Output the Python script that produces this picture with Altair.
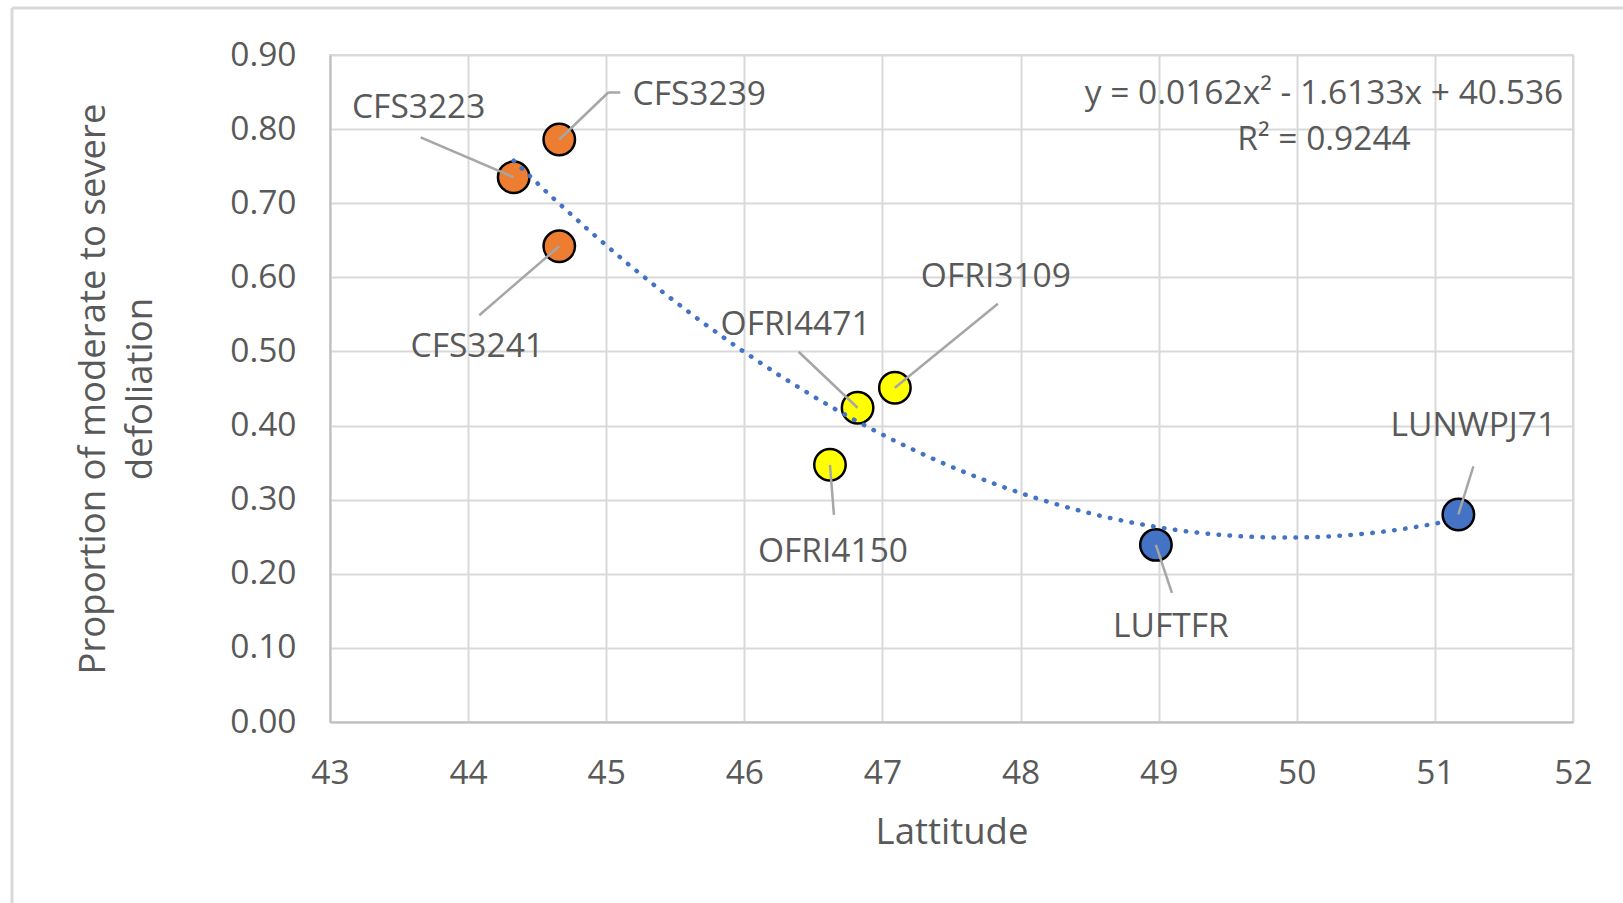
import altair as alt
import pandas as pd

# Sites, their latitude and the proportion of moderate-to-severe defoliation
sites = ["CFS3223", "CFS3239", "CFS3241", "OFRI4471", "OFRI3109", "OFRI4150", "LUFTFR", "LUNWPJ71"]
latitude = [44.33, 44.66, 44.66, 46.82, 47.09, 46.62, 48.98, 51.17]
defoliation = [0.735, 0.786, 0.642, 0.424, 0.451, 0.347, 0.239, 0.280]
source = ["CFS", "CFS", "CFS", "OFRI", "OFRI", "OFRI", "LU", "LU"]

x_ticks = [43, 44, 45, 46, 47, 48, 49, 50, 51, 52]
y_ticks = [0.0, 0.1, 0.2, 0.3, 0.4, 0.5, 0.6, 0.7, 0.8, 0.9]
equation = "y = 0.0162x² - 1.6133x + 40.536"
r_squared = "R² = 0.9244"

# ---- layout -------------------------------------------------------------
W, H = 1243, 667
LEFT, TOP = 330, 55
PX_X = W / (x_ticks[-1] - x_ticks[0])
PX_Y = H / (y_ticks[-1] - y_ticks[0])

GREY_TEXT = "#595959"
FONT = "Open Sans"
TEXT_SIZE = 33.5

# callout leaders (pixel vertices relative to the point) and label centres
callouts = {
    "CFS3223": ([(0, 0), (-93, -40)], (-95, -69)),
    "CFS3239": ([(0, 0), (49, -47), (61, -47)], (140, -44)),
    "CFS3241": ([(0, 0), (-80, 69)], (-82, 101)),
    "OFRI4471": ([(0, 0), (-59, -56)], (-62, -83)),
    "OFRI3109": ([(0, 0), (103, -84)], (101, -111)),
    "OFRI4150": ([(0, 0), (4, 50)], (3, 87)),
    "LUFTFR": ([(0, 0), (16, 48)], (15, 82)),
    "LUNWPJ71": ([(0, 0), (15, -48)], (15, -88)),
}

points = pd.DataFrame({"site": sites, "lat": latitude, "val": defoliation, "source": source})

leader_rows, label_rows = [], []
for s, la, v in zip(sites, latitude, defoliation):
    verts, (lx, ly) = callouts[s]
    for (ax, ay), (bx, by) in zip(verts[:-1], verts[1:]):
        leader_rows.append({
            "site": s,
            "lat": la + ax / PX_X, "val": v - ay / PX_Y,
            "lat2": la + bx / PX_X, "val2": v - by / PX_Y,
        })
    label_rows.append({"site": s, "lat": la + lx / PX_X, "val": v - ly / PX_Y})
leaders = pd.DataFrame(leader_rows)
labels = pd.DataFrame(label_rows)

x_scale = alt.Scale(domain=[x_ticks[0], x_ticks[-1]], nice=False, zero=False)
y_scale = alt.Scale(domain=[y_ticks[0], y_ticks[-1]], nice=False, zero=False)

x_axis = alt.Axis(
    values=x_ticks, format="d", title="Lattitude", labelPadding=35,
    titleBaseline="alphabetic", titleY=121, labelFlush=False)
y_axis = alt.Axis(
    values=y_ticks, format=".2f", title=["Proportion of moderate to severe", "defoliation"],
    labelPadding=34, titleX=-237, titleY=H / 2, titleBaseline="middle",
    titleLineHeight=47, titleAngle=270, labelFlush=False)

X = alt.X("lat:Q", scale=x_scale, axis=x_axis)
Y = alt.Y("val:Q", scale=y_scale, axis=y_axis)

markers = alt.Chart(points).mark_point(
    filled=True, size=990, stroke="black", strokeWidth=2.5, opacity=1, shape="circle"
).encode(
    x=X, y=Y,
    fill=alt.Fill("source:N", legend=None, scale=alt.Scale(
        domain=["CFS", "OFRI", "LU"], range=["#ED7D31", "#FFFF00", "#4472C4"])),
)

# second-order polynomial trendline fitted to the points
trend = alt.Chart(points).transform_regression(
    "lat", "val", method="poly", order=2
).mark_line(
    color="#4472C4", strokeWidth=4.5, strokeDash=[0.5, 10.5], strokeCap="round"
).encode(x=X, y=Y)

leader_lines = alt.Chart(leaders).mark_rule(color="#a6a6a6", strokeWidth=2.5).encode(
    x=X, y=Y, x2="lat2:Q", y2="val2:Q",
)

label_text = alt.Chart(labels).mark_text(
    font=FONT, fontSize=TEXT_SIZE, color=GREY_TEXT, align="center", baseline="middle"
).encode(x=X, y=Y, text="site:N")

one = pd.DataFrame({"k": [0]})
eq_text = alt.Chart(one).mark_text(
    font=FONT, fontSize=TEXT_SIZE, color=GREY_TEXT, align="center", baseline="middle"
).encode(x=alt.value(994), y=alt.value(39), text=alt.value(equation))
r2_text = alt.Chart(one).mark_text(
    font=FONT, fontSize=TEXT_SIZE, color=GREY_TEXT, align="center", baseline="middle"
).encode(x=alt.value(994), y=alt.value(85), text=alt.value(r_squared))

# light frame around the chart area (top and left edges)
frame_top = alt.Chart(one).mark_rule(color="#d9d9d9", strokeWidth=3).encode(
    x=alt.value(12 - LEFT), x2=alt.value(1623 - LEFT), y=alt.value(8 - TOP))
frame_left = alt.Chart(one).mark_rule(color="#d9d9d9", strokeWidth=3).encode(
    x=alt.value(12 - LEFT), y=alt.value(8 - TOP), y2=alt.value(903 - TOP))

chart = alt.layer(
    markers, trend, leader_lines, label_text, eq_text, r2_text, frame_top, frame_left
).properties(
    width=W, height=H,
    autosize=alt.AutoSizeParams(type="none"),
    padding={"left": LEFT, "top": TOP, "right": 1623 - LEFT - W, "bottom": 903 - TOP - H},
    background="white",
).configure_axis(
    grid=True, gridColor="#d9d9d9", gridWidth=2,
    domainColor="#bfbfbf", domainWidth=2, ticks=False,
    labelFont=FONT, labelFontSize=33.5, labelColor=GREY_TEXT,
    titleFont=FONT, titleFontSize=36.5, titleColor=GREY_TEXT, titleFontWeight="normal",
).configure_view(stroke="#d9d9d9", strokeWidth=2)

chart.save("out.html", embed_options={"renderer": "svg", "actions": False})
